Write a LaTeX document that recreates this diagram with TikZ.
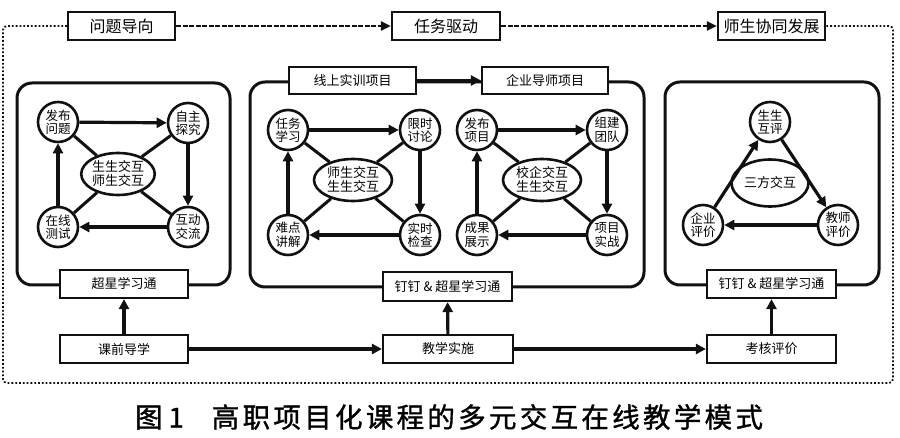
\documentclass[tikz,border=0pt]{standalone}
\usepackage{fontspec}
\setmainfont{Noto Sans CJK SC}
\newfontfamily\capfont{Noto Sans CJK SC}[LetterSpace=12,FakeBold=1.2]
\usepackage{tikz}
\usetikzlibrary{
  arrows.meta,
  shapes.geometric
}
\definecolor{InkBlack}{RGB}{17,17,17}
\tikzset{
  headbox/.style={draw=InkBlack,fill=white,line width=2.2pt,minimum width=107pt,minimum height=28pt,inner sep=0pt,font=\fontsize{16}{16}\selectfont},
  toolbox/.style={draw=InkBlack,fill=white,line width=2.2pt,minimum width=128pt,minimum height=28pt,inner sep=0pt,font=\fontsize{13}{13}\selectfont},
  projbox/.style={draw=InkBlack,fill=white,line width=2.2pt,minimum width=127pt,minimum height=27pt,inner sep=0pt,font=\fontsize{13}{13}\selectfont},
  stagebox/.style={draw=InkBlack,fill=white,line width=2.2pt,minimum width=128pt,minimum height=28pt,inner sep=0pt,font=\fontsize{13}{13}\selectfont},
  actnode/.style={circle,draw=InkBlack,fill=white,line width=2.6pt,minimum size=40pt,inner sep=0pt,align=center,font=\fontsize{12.5}{13.5}\selectfont},
  hubnode/.style={ellipse,draw=InkBlack,fill=white,line width=2.6pt,minimum width=78pt,minimum height=42pt,inner sep=0pt,align=center,font=\fontsize{13}{14}\selectfont},
  panel/.style={draw=InkBlack,line width=3pt,rounded corners=15pt},
  flow/.style={-{Triangle[length=10pt,width=10pt]},line width=3.2pt,draw=InkBlack},
  spoke/.style={line width=3pt,draw=InkBlack},
  trend/.style={-{Triangle[length=10pt,width=9pt]},line width=2.8pt,dash pattern=on 5pt off 1.5pt,draw=InkBlack},
  frame/.style={line width=1.8pt,dotted,draw=InkBlack,rounded corners=4pt}
}

\begin{document}
\begin{tikzpicture}[x=1pt,y=-1pt]
\useasboundingbox (0,0) rectangle (900,438);

\draw[panel] (17,83) rectangle (230,285);
\draw[panel] (250,82) rectangle (644,287);
\draw[panel] (665,82) rectangle (879,285);

\node[headbox] (goal1) at (121.5,26) {问题导向};
\node[headbox,minimum width=108pt] (goal2) at (446,26) {任务驱动};
\node[headbox] (goal3) at (771.5,26) {师生协同发展};

\coordinate (fr1) at (3,26);
\coordinate (fr2) at (3,383);
\coordinate (fr3) at (893,383);
\coordinate (fr4) at (893,26);
\draw[frame] (goal1.west) -- (fr1) -- (fr2) -- (fr3) -- (fr4) -- (goal3.east);
\draw[trend] (goal1) -- (goal2);
\draw[trend] (goal2) -- (goal3);

\node[projbox] (proj1) at (352.5,80.5) {线上实训项目};
\node[projbox,minimum width=126pt] (proj2) at (545,80.5) {企业导师项目};
\draw[flow] (proj1) -- (proj2);

\node[toolbox] (tool1) at (124,284) {超星学习通};
\node[toolbox,minimum width=129pt,minimum height=29pt] (tool2) at (447.5,286.5) {钉钉 \& 超星学习通};
\node[toolbox,minimum width=129pt] (tool3) at (771.5,284) {钉钉 \& 超星学习通};

\node[stagebox] (stage1) at (124,349) {课前导学};
\node[stagebox,minimum width=130pt] (stage2) at (448,349) {教学实施};
\node[stagebox,minimum width=129pt] (stage3) at (771.5,349) {考核评价};
\draw[flow] (stage1) -- (stage2);
\draw[flow] (stage2) -- (stage3);
\draw[flow] (stage1) -- (tool1);
\draw[flow] (stage2) -- (tool2);
\draw[flow] (stage3) -- (tool3);

\node[actnode] (ask) at (58,122) {发布\\问题};
\node[actnode] (explore) at (188,123) {自主\\探究};
\node[actnode] (discuss) at (188,227) {互动\\交流};
\node[actnode] (test) at (58,227) {在线\\测试};
\node[hubnode,minimum width=68pt] (hubA) at (118,174) {生生交互\\师生交互};
\draw[flow] (ask) -- (explore);
\draw[flow] (explore) -- (discuss);
\draw[flow] (discuss) -- (test);
\draw[flow] (test) -- (ask);
\foreach \n in {ask,explore,discuss,test}
  \draw[spoke] (hubA) -- (\n);

\node[actnode] (task) at (288,130) {任务\\学习};
\node[actnode] (limit) at (420,130) {限时\\讨论};
\node[actnode] (check) at (420,235) {实时\\检查};
\node[actnode] (explain) at (288,235) {难点\\讲解};
\node[hubnode] (hubB) at (353,180) {师生交互\\生生交互};
\draw[flow] (task) -- (limit);
\draw[flow] (limit) -- (check);
\draw[flow] (check) -- (explain);
\draw[flow] (explain) -- (task);
\foreach \n in {task,limit,check,explain}
  \draw[spoke] (hubB) -- (\n);

\node[actnode] (issue) at (477,130) {发布\\项目};
\node[actnode] (team) at (607,130) {组建\\团队};
\node[actnode] (practice) at (607,235) {项目\\实战};
\node[actnode] (show) at (477,235) {成果\\展示};
\node[hubnode] (hubC) at (542,180) {校企交互\\生生交互};
\draw[flow] (issue) -- (team);
\draw[flow] (team) -- (practice);
\draw[flow] (practice) -- (show);
\draw[flow] (show) -- (issue);
\foreach \n in {issue,team,practice,show}
  \draw[spoke] (hubC) -- (\n);

\node[actnode] (peer) at (770,122) {生生\\互评};
\node[actnode] (teacher) at (838,225) {教师\\评价};
\node[actnode] (firm) at (703,225) {企业\\评价};
\node[hubnode,minimum width=77pt,minimum height=47pt] (hubD) at (770,183) {三方交互};
\draw[flow] (firm) -- (peer);
\draw[flow] (peer) -- (teacher);
\draw[flow] (teacher) -- (firm);

\node[font=\fontsize{27.5}{27.5}\selectfont] (caption) at (449,417) {\capfont 图\hspace{6pt}1\hspace{28pt}高职项目化课程的多元交互在线教学模式};
\end{tikzpicture}
\end{document}
